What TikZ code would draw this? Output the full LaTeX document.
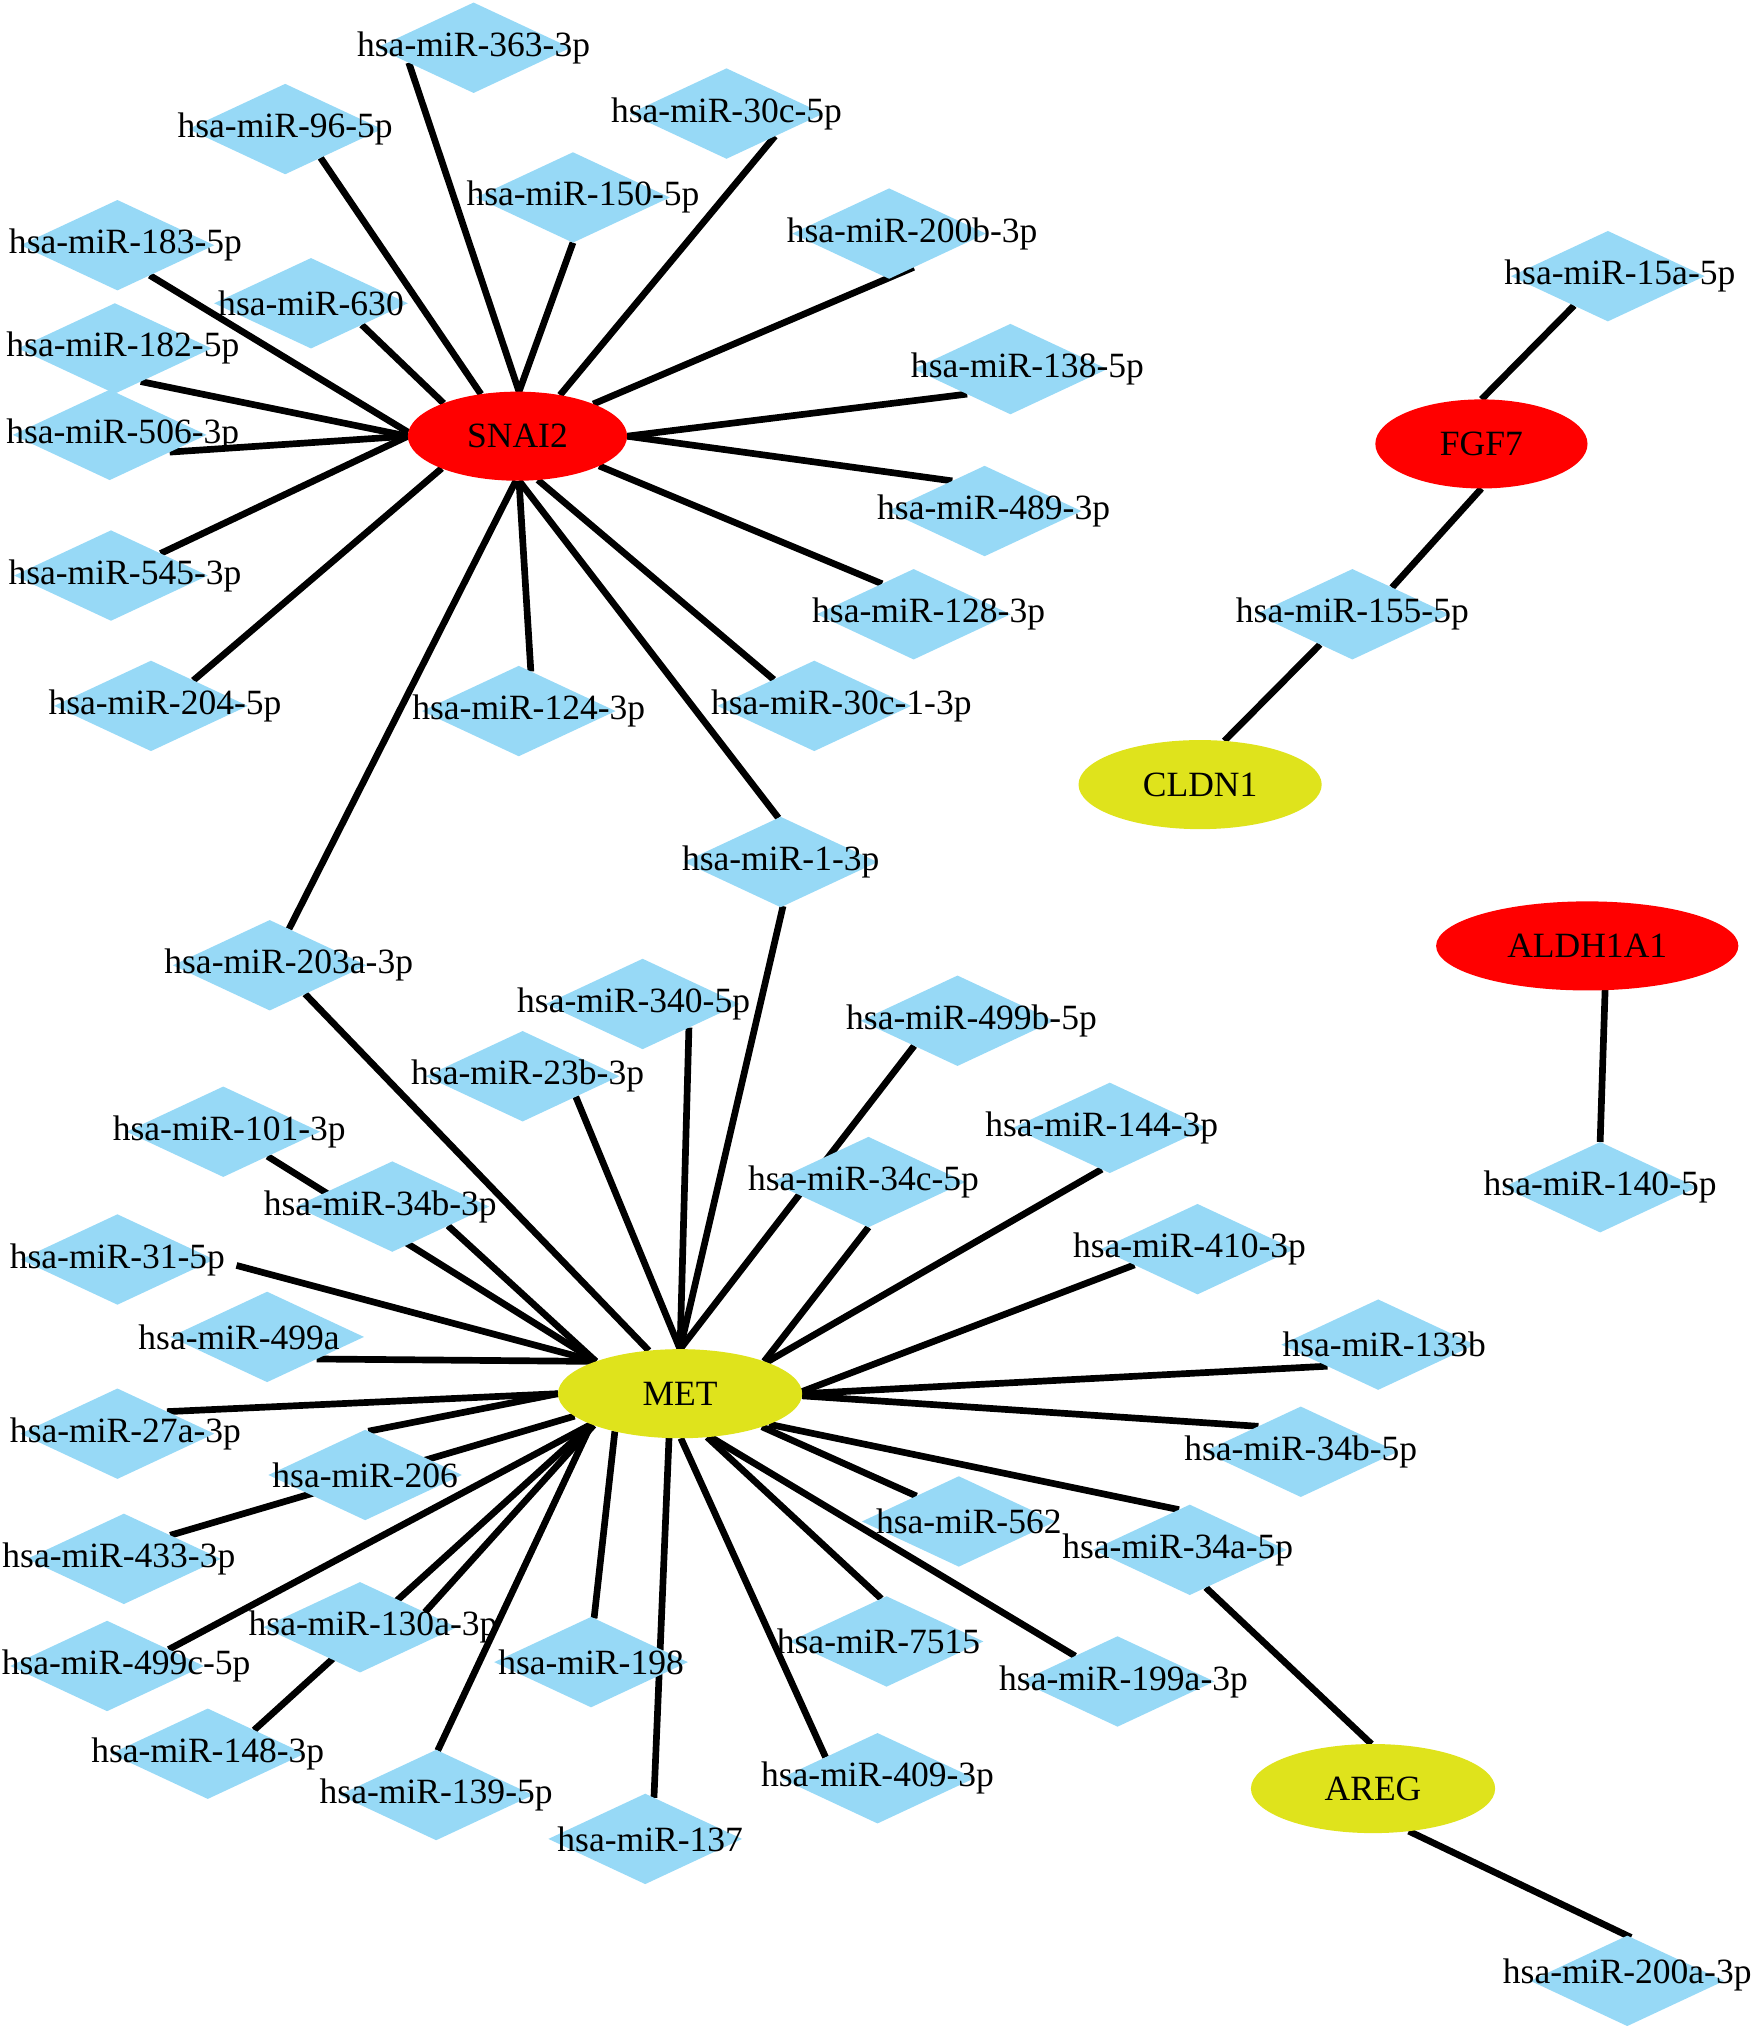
\documentclass[tikz,border=0pt]{standalone}
\usepackage{fontspec}
\setmainfont{Liberation Serif}
\usepackage{tikz}
\usetikzlibrary{shapes.geometric}
\usetikzlibrary{backgrounds}
\definecolor{mirblue}{RGB}{151,217,246}
\definecolor{genered}{RGB}{255,0,0}
\definecolor{geneyellow}{RGB}{223,227,28}

\begin{document}
\begin{tikzpicture}[x=0.0129cm, y=-0.0129cm,
  every node/.style={font=\fontsize{10.1}{12}\selectfont},
  every label/.style={yshift=0mm},
  mirna/.style={diamond, fill=mirblue, minimum width=1.935cm, minimum height=0.903cm, inner sep=0pt, outer sep=0pt},
  gene/.style={ellipse, minimum height=0.89cm, inner sep=0pt, outer sep=0pt},
  link/.style={line width=1.9pt}]
\useasboundingbox (0,0) rectangle (1360,1570);

%%% genes %%%
\node[gene, fill=genered, minimum width=2.19cm] (snai2) at (401,338) {SNAI2};
\node[gene, fill=geneyellow, minimum width=2.44cm] (met) at (527,1080) {MET};
\node[gene, fill=genered, minimum width=2.12cm] (fgf7) at (1148,344) {FGF7};
\node[gene, fill=geneyellow, minimum width=2.43cm] (cldn1) at (930,608) {CLDN1};
\node[gene, fill=genered, minimum width=3.02cm] (aldh) at (1230,733) {ALDH1A1};
\node[gene, fill=geneyellow, minimum width=2.44cm] (areg) at (1064,1386) {AREG};

%%% miRNAs round SNAI2 %%%
\node[mirna, label=center:hsa-miR-363-3p] (m363) at (367,37) {};
\node[mirna, label=center:hsa-miR-96-5p] (m96) at (221,100) {};
\node[mirna, label=center:hsa-miR-30c-5p] (m30c5) at (563,88) {};
\node[mirna, label={[xshift=1mm]center:hsa-miR-150-5p}] (m150) at (444,153) {};
\node[mirna, label={[xshift=2.3mm]center:hsa-miR-200b-3p}] (m200b) at (689,181) {};
\node[mirna, label={[xshift=0.8mm]center:hsa-miR-183-5p}] (m183) at (91,190) {};
\node[mirna, label=center:hsa-miR-630] (m630) at (241,235) {};
\node[mirna, label={[xshift=0.8mm]center:hsa-miR-182-5p}] (m182) at (89,270) {};
\node[mirna, label={[xshift=1.7mm]center:hsa-miR-138-5p}] (m138) at (783,286) {};
\node[mirna, label={[xshift=1.3mm]center:hsa-miR-506-3p}] (m506) at (85,337) {};
\node[mirna, label={[xshift=0.9mm]center:hsa-miR-489-3p}] (m489) at (763,396) {};
\node[mirna, label={[xshift=1.4mm]center:hsa-miR-545-3p}] (m545) at (86,446) {};
\node[mirna, label={[xshift=1.5mm]center:hsa-miR-128-3p}] (m128) at (708,476) {};
\node[mirna, label={[xshift=1.4mm]center:hsa-miR-204-5p}] (m204) at (117,547) {};
\node[mirna, label={[xshift=1mm]center:hsa-miR-124-3p}] (m124) at (402,551) {};
\node[mirna, label={[xshift=2.7mm]center:hsa-miR-30c-1-3p}] (m30c13) at (631,547) {};
\node[mirna, label=center:hsa-miR-1-3p] (m1) at (605,668) {};
\node[mirna, label={[xshift=1.9mm]center:hsa-miR-203a-3p}] (m203a) at (209,748) {};

%%% miRNAs round MET %%%
\node[mirna, label={[xshift=-0.9mm]center:hsa-miR-340-5p}] (m340) at (498,778) {};
\node[mirna, label={[xshift=1.4mm]center:hsa-miR-499b-5p}] (m499b) at (742,791) {};
\node[mirna, label={[xshift=0.5mm]center:hsa-miR-23b-3p}] (m23b) at (405,834) {};
\node[mirna, label={[xshift=-0.8mm]center:hsa-miR-144-3p}] (m144) at (860,874) {};
\node[mirna, label={[xshift=0.6mm]center:hsa-miR-101-3p}] (m101) at (173,877) {};
\node[mirna, label={[xshift=-0.5mm]center:hsa-miR-34c-5p}] (m34c) at (673,916) {};
\node[mirna, label={[xshift=-1.2mm]center:hsa-miR-34b-3p}] (m34b3) at (304,935) {};
\node[mirna, label={[xshift=-0.8mm]center:hsa-miR-410-3p}] (m410) at (928,968) {};
\node[mirna, label=center:hsa-miR-31-5p] (m31) at (91,976) {};
\node[mirna, label={[xshift=-2.8mm]center:hsa-miR-499a}] (m499a) at (207,1036) {};
\node[mirna, label={[xshift=0.6mm]center:hsa-miR-133b}] (m133b) at (1068,1042) {};
\node[mirna, label={[xshift=0.8mm]center:hsa-miR-27a-3p}] (m27a) at (91,1111) {};
\node[mirna, label=center:hsa-miR-34b-5p] (m34b5) at (1008,1125) {};
\node[mirna, label=center:hsa-miR-206] (m206) at (283,1143) {};
\node[mirna, label={[xshift=1mm]center:hsa-miR-562}] (m562) at (743,1179) {};
\node[mirna, label={[xshift=-0.5mm]center:hsa-miR-433-3p}] (m433) at (96,1208) {};
\node[mirna, label={[xshift=-1.2mm]center:hsa-miR-34a-5p}] (m34a) at (922,1201) {};
\node[mirna, label={[xshift=1.3mm]center:hsa-miR-130a-3p}] (m130a) at (279,1261) {};
\node[mirna, label={[xshift=-0.8mm]center:hsa-miR-7515}] (m7515) at (687,1272) {};
\node[mirna, label={[xshift=1.9mm]center:hsa-miR-499c-5p}] (m499c) at (83,1291) {};
\node[mirna, label=center:hsa-miR-198] (m198) at (458,1288) {};
\node[mirna, label={[xshift=0.6mm]center:hsa-miR-199a-3p}] (m199a) at (866,1303) {};
\node[mirna, label=center:hsa-miR-148-3p] (m148) at (161,1359) {};
\node[mirna, label=center:hsa-miR-139-5p] (m139) at (338,1391) {};
\node[mirna, label=center:hsa-miR-409-3p] (m409) at (680,1378) {};
\node[mirna, label={[xshift=0.5mm]center:hsa-miR-137}] (m137) at (500,1425) {};

%%% small groups %%%
\node[mirna, label={[xshift=1.2mm]center:hsa-miR-15a-5p}] (m15a) at (1246,214) {};
\node[mirna, label=center:hsa-miR-155-5p] (m155) at (1048,476) {};
\node[mirna, label=center:hsa-miR-140-5p] (m140) at (1240,920) {};
\node[mirna, label={[yshift=0.6mm]center:hsa-miR-200a-3p}] (m200a) at (1261,1535) {};

\begin{scope}[on background layer]
%% SNAI2
\draw[link] (snai2.88) -- (m363.-167);
\draw[link] (snai2.131) -- (m96.-39);
\draw[link] (snai2.88) -- (m150.-90);
\draw[link] (snai2.44) -- (m30c5.-25);
\draw[link] (snai2.23) -- (m200b.-54);
\draw[link] (snai2.0) -- (m138.-150);
\draw[link] (snai2.0) -- (m489.137);
\draw[link] (snai2.-20) -- (m128.136);
\draw[link] (snai2.-65) -- (m30c13.147);
\draw[link] (snai2.-88) -- (m1.93);
\draw[link] (snai2.-88) -- (m124.73);
\draw[link] (snai2.-92) -- (m203a.62);
\draw[link] (snai2.-157) -- (m204.31);
\draw[link] (snai2.180) -- (m545.24);
\draw[link] (snai2.180) -- (m506.-16);
\draw[link] (snai2.180) -- (m182.-52);
\draw[link] (snai2.178) -- (m183.-43);
\draw[link] (snai2.156) -- (m630.-23);
%% MET
\draw[link] (met.126) -- (m203a.-39);
\draw[link] (met.90) -- (m1.-87);
\draw[link] (met.90) -- (m340.-27);
\draw[link] (met.90) -- (m23b.-21);
\draw[link] (met.90) -- (m499b.-150);
\draw[link] (met.21) -- (m34c.-90);
\draw[link] (met.20) -- (m144.-101);
\draw[link] (met.1) -- (m410.-166);
\draw[link] (met.0) -- (m133b.-157);
\draw[link] (met.-1) -- (m34b5.149);
\draw[link] (met.-19) -- (m34a.105);
\draw[link] (met.-22) -- (m562.149);
\draw[link] (met.-58) -- (m7515.97);
\draw[link] (met.-55) -- (m199a.149);
\draw[link] (met.-89) -- (m409.158);
\draw[link] (met.-104) -- (m137.78);
\draw[link] (met.-150) -- (m198.86);
\draw[link] (met.-161) -- (m139.88);
\draw[link] (met.-161) -- (m148.27);
\draw[link] (met.-160) -- (m130a.13);
\draw[link] (met.-161) -- (m499c.15);
\draw[link] (met.-168) -- (m433.27);
\draw[link] (met.180) -- (m206.86);
\draw[link] (met.180) -- (m27a.24);
\draw[link] (met.159) -- (m499a.-24);
\draw[link, shorten >=0.23cm] (met.159) -- (m31.0);
\draw[link] (met.159) -- (m34b3.-19);
\draw[link] (met.159) -- (m101.-29);
%% the rest
\draw[link] (fgf7.90) -- (m15a.-139);
\draw[link] (fgf7.-90) -- (m155.34);
\draw[link] (cldn1.61) -- (m155.-137);
\draw[link] (aldh.-68) -- (m140.90);
\draw[link] (m34a.-67) -- (areg.92);
\draw[link] (areg.-50) -- (m200a.85);
\end{scope}

\end{tikzpicture}
\end{document}
